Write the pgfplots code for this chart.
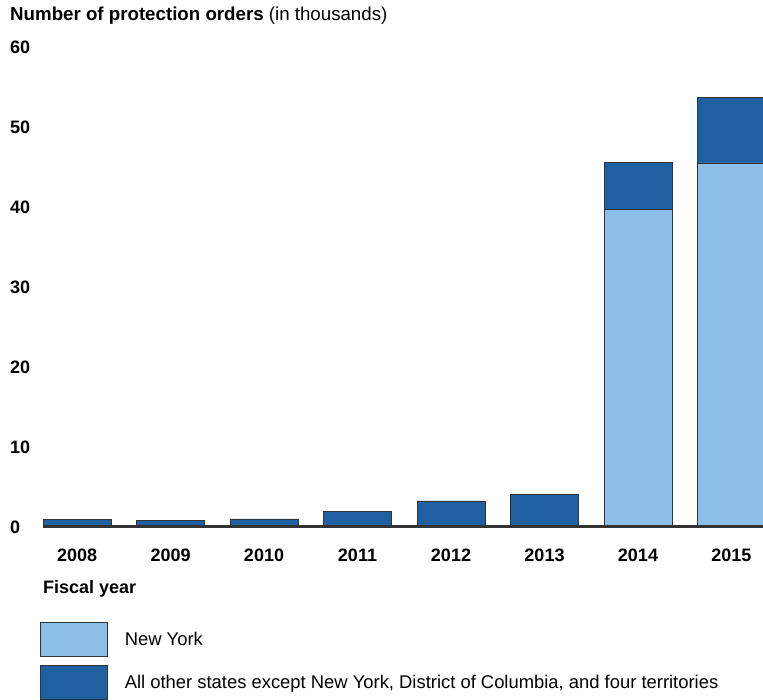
\documentclass[border=0pt]{standalone}
\usepackage{pgfplots}
\pgfplotsset{compat=1.18}
\usepackage{fontspec}
\setmainfont{Liberation Sans}
\definecolor{nylight}{RGB}{141,190,232}
\definecolor{otherdark}{RGB}{30,96,162}
\begin{document}
\begin{tikzpicture}
\useasboundingbox (0,0) rectangle (763pt,700pt);
\begin{axis}[
  at={(43pt,173pt)}, anchor=south west,
  scale only axis, width=720pt, height=480pt,
  xmin=-0.364, xmax=7.337, ymin=0, ymax=60,
  ybar stacked, bar width=68pt,
  axis on top,
  xtick={0,...,7},
  xticklabels={2008,2009,2010,2011,2012,2013,2014,2015},
  ytick={0,10,...,60},
  major tick length=0pt,
  axis x line*=bottom, axis y line*=left,
  x axis line style={-, line width=3pt, color=black!80},
  y axis line style={draw=none},
  /pgf/number format/assume math mode=true,
  ticklabel style={font=\fontsize{18}{21}\selectfont\bfseries},
  xticklabel style={anchor=base, yshift=-35pt},
  yticklabel style={anchor=west, inner sep=0pt, xshift=-33pt},
  xlabel={\textbf{Fiscal year}},
  xlabel style={at={(axis description cs:0,0)}, anchor=base west, inner sep=0pt, yshift=-67pt, font=\fontsize{18}{21}\selectfont},
  title={\textbf{Number of protection orders} (in thousands)},
  title style={at={(axis description cs:0,1)}, anchor=base west, inner sep=0pt, xshift=-33pt, yshift=20pt, font=\fontsize{18.7}{22}\selectfont},
  legend image code/.code={\draw[#1] (0pt,-17pt) rectangle (67pt,17pt);},
  legend style={at={(axis description cs:0,0)}, xshift=-3pt, yshift=-95pt, anchor=north west, draw=none, fill=none, inner sep=0pt, row sep=8pt, column sep=15pt, font=\fontsize{18.4}{21}\selectfont},
  legend cell align=left,
]
\addplot[fill=nylight, draw=black!80, line width=0.6pt] coordinates {(0,0) (1,0) (2,0) (3,0) (4,0) (5,0) (6,39.7) (7,45.5)};
\addplot[fill=otherdark, draw=black!80, line width=0.6pt] coordinates {(0,0.9) (1,0.8) (2,1.0) (3,1.9) (4,3.25) (5,4.1) (6,5.9) (7,8.2)};
\legend{New York, {All other states except New York, District of Columbia, and four territories}}
\end{axis}
\end{tikzpicture}
\end{document}
